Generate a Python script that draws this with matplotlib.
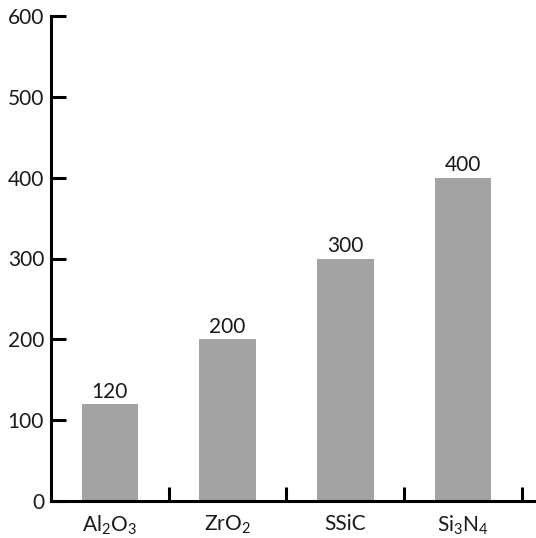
import matplotlib
matplotlib.use('Agg')
import matplotlib.pyplot as plt
import numpy as np

# data
materials = [r'Al$_2$O$_3$', r'ZrO$_2$', 'SSiC', r'Si$_3$N$_4$']
values = [120, 200, 300, 400]
y_ticks = [0, 100, 200, 300, 400, 500, 600]

plt.rcParams['font.family'] = ['Lato', 'DejaVu Sans']
plt.rcParams['mathtext.fontset'] = 'custom'
plt.rcParams['mathtext.rm'] = 'Lato'
plt.rcParams['mathtext.it'] = 'Lato'

fig = plt.figure(figsize=(5.36, 5.38), dpi=100)
ax = fig.add_axes([51 / 536, 1 - 501 / 538, 1 - 51 / 536, (501 - 16) / 538])

x = np.arange(len(values))
ax.bar(x, values, width=0.48, color='#a3a3a3', zorder=2)
for xi, v in zip(x, values):
    ax.text(xi, v + 3, str(v), ha='center', va='bottom', fontsize=15, color='#1a1a1a')

ax.set_ylim(0, 600)
ax.set_xlim(-0.5, 3.62)
ax.set_yticks(y_ticks)
ax.tick_params(axis='y', direction='in', length=11, width=2.2, labelsize=15, pad=5,
               labelcolor='#1a1a1a')

# category names at centres, separators at boundaries
ax.set_xticks(x)
ax.set_xticklabels(materials)
ax.tick_params(axis='x', length=0, labelsize=15, pad=9, labelcolor='#1a1a1a')
ax.set_xticks(np.arange(0.5, len(values), 1.0), minor=True)
ax.tick_params(axis='x', which='minor', direction='in', length=10, width=2.2)

for s in ['top', 'right']:
    ax.spines[s].set_visible(False)
for s in ['left', 'bottom']:
    ax.spines[s].set_linewidth(2.2)

fig.savefig('out.png', dpi=100)
